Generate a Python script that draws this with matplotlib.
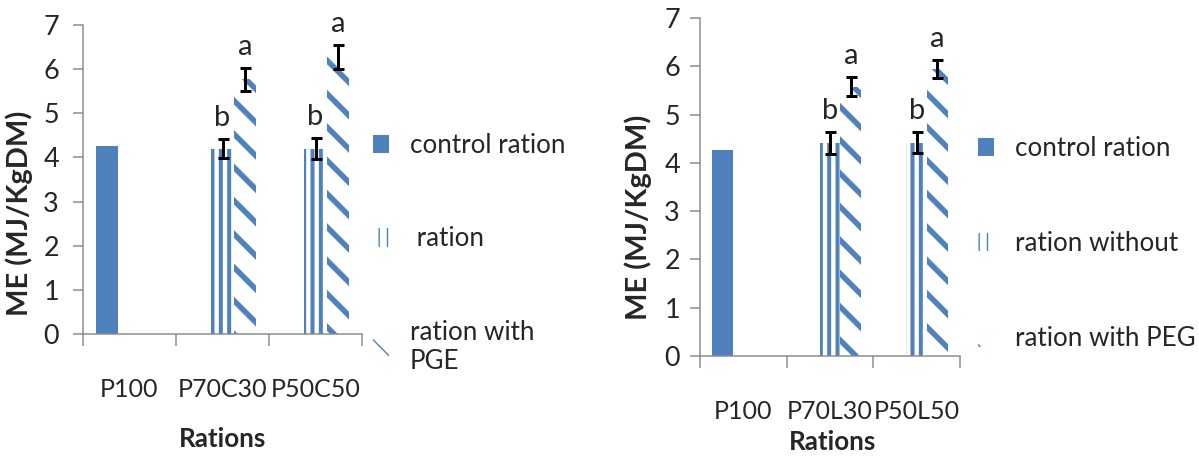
import numpy as np
import matplotlib
matplotlib.use("Agg")
import matplotlib.pyplot as plt

DPI = 100
W, H = 1199, 457


def px(v):
    """Convert a length in pixels to points."""
    return v * 72.0 / DPI


plt.rcParams['font.family'] = ['Lato', 'DejaVu Sans']

BLUE = '#4F81BD'
GRAY = '#8C8C8C'
TEXT = '#262626'
FS_XTICK = px(25)
FS_YTICK = px(27)
FS_LABEL = px(29)
FS_XLABEL = px(26)
FS_LEGEND = px(26)
FS_LETTER = px(29)

# ---- Panel 1: ration with carob/PGE ----
categories_left = ['P100', 'P70C30', 'P50C50']
control_left = [4.25, np.nan, np.nan]
without_left = [np.nan, 4.20, 4.20]
without_err_left = [np.nan, 0.21, 0.23]
with_left = [np.nan, 5.77, 6.28]
with_err_left = [np.nan, 0.26, 0.27]
letters_without_left = ['', 'b', 'b']
letters_with_left = ['', 'a', 'a']
legend_left = ['control ration', ' ration', 'ration with\nPGE']

# ---- Panel 2: ration with PEG ----
categories_right = ['P100', 'P70L30', 'P50L50']
control_right = [4.27, np.nan, np.nan]
without_right = [np.nan, 4.41, 4.42]
without_err_right = [np.nan, 0.23, 0.22]
with_right = [np.nan, 5.58, 5.94]
with_err_right = [np.nan, 0.20, 0.19]
letters_without_right = ['', 'b', 'b']
letters_with_right = ['', 'a', 'a']
legend_right = ['control ration', 'ration without', 'ration with PEG']

fig = plt.figure(figsize=(W / DPI, H / DPI), dpi=DPI)


def axes_px(x0, y0, x1, y1):
    return fig.add_axes([x0 / W, 1 - y1 / H, (x1 - x0) / W, (y1 - y0) / H])


def panel(ax, cats, ctrl, wo, wo_err, wi, wi_err, let_wo, let_wi, labels,
          ytick_pad, ylab_xy, xlab_xy, leg_xy, labelspacing):
    x = np.arange(len(cats))
    w = 0.24
    b1 = ax.bar(x - w, ctrl, w, color=BLUE, linewidth=0)
    with plt.rc_context({'hatch.linewidth': px(4)}):
        b2 = ax.bar(x, wo, w, facecolor='white', edgecolor=BLUE,
                    hatch='||', linewidth=0)
    with plt.rc_context({'hatch.linewidth': px(5.5)}):
        b3 = ax.bar(x + w, wi, w, facecolor='white', edgecolor=BLUE,
                    hatch='\\', linewidth=0)

    for xs, ys, es in ((x, wo, wo_err), (x + w, wi, wi_err)):
        ax.errorbar(xs, ys, yerr=es, fmt='none', ecolor='black',
                    elinewidth=px(3), capsize=px(5.5), capthick=px(3))

    for xs, ys, es, lets in ((x, wo, wo_err, let_wo), (x + w, wi, wi_err, let_wi)):
        for xi, yi, ei, t in zip(xs, ys, es, lets):
            if t:
                ax.annotate(t, (xi, yi + ei), xytext=(0, 21),
                            textcoords='offset pixels', ha='center',
                            va='center', fontsize=FS_LETTER, color=TEXT)

    ax.set_xlim(-0.5, len(cats) - 0.5)
    ax.set_ylim(0, 7)
    ax.set_yticks(range(8))
    ax.set_xticks(x, cats)
    ax.set_xticks(np.arange(len(cats) + 1) - 0.5, minor=True)
    ax.tick_params(axis='x', which='major', length=0, pad=px(44),
                   labelsize=FS_XTICK, labelcolor=TEXT)
    ax.tick_params(axis='x', which='minor', length=px(12), width=px(1.5),
                   color=GRAY, direction='out')
    ax.tick_params(axis='y', length=px(10), width=px(1.5), color=GRAY,
                   direction='out', pad=px(ytick_pad), labelsize=FS_YTICK,
                   labelcolor=TEXT)
    for s in ('top', 'right'):
        ax.spines[s].set_visible(False)
    for s in ('left', 'bottom'):
        ax.spines[s].set_color(GRAY)
        ax.spines[s].set_linewidth(px(1.5))

    ax.set_ylabel('ME (MJ/KgDM)', fontsize=FS_LABEL, fontweight='bold',
                  color=TEXT)
    ax.yaxis.set_label_coords(*ylab_xy)
    ax.set_xlabel('Rations', fontsize=FS_XLABEL, fontweight='bold', color=TEXT)
    ax.xaxis.set_label_coords(*xlab_xy)

    ax.legend(handles=[b1, b2, b3], labels=labels, loc='upper left',
              bbox_to_anchor=(leg_xy[0] / W, 1 - leg_xy[1] / H),
              bbox_transform=fig.transFigure, frameon=False,
              fontsize=FS_LEGEND, handlelength=0.62, handleheight=0.72,
              handletextpad=0.8, labelspacing=labelspacing,
              borderpad=0, borderaxespad=0, labelcolor=TEXT)


ax1 = axes_px(83, 25, 362, 334)
panel(ax1, categories_left, control_left, without_left, without_err_left,
      with_left, with_err_left, letters_without_left, letters_with_left,
      legend_left, 14, (-0.18, 0.392), (0.5, -0.30), (373, 133), 2.63)

ax2 = axes_px(700, 18, 960, 356)
panel(ax2, categories_right, control_right, without_right, without_err_right,
      with_right, with_err_right, letters_without_right, letters_with_right,
      legend_right, 10, (-0.185, 0.411), (0.508, -0.22), (978, 136), 2.7)

fig.savefig('out.png', dpi=DPI)
